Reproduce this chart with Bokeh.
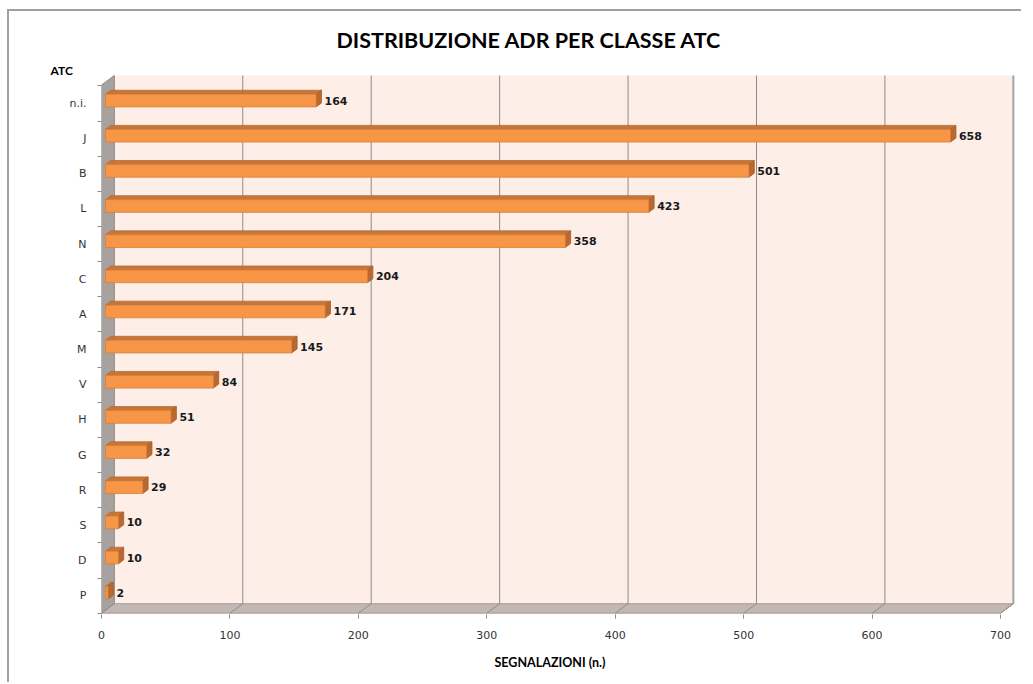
from bokeh.plotting import figure
from bokeh.models import Range1d, FixedTicker, Title, ColumnDataSource
from bokeh.core.properties import value
from bokeh.embed import file_html
from bokeh.resources import INLINE

# ---------------- data ----------------
categories = ["n.i.", "J", "B", "L", "N", "C", "A", "M", "V", "H", "G", "R", "S", "D", "P"]
counts = [164, 658, 501, 423, 358, 204, 171, 145, 84, 51, 32, 29, 10, 10, 2]
x_ticks = [0, 100, 200, 300, 400, 500, 600, 700]
title_text = "DISTRIBUZIONE ADR PER CLASSE ATC"
x_title = "SEGNALAZIONI (n.)"
y_title = "ATC"

# ---------------- geometry (3D look) ----------------
XMAX = 700.0
D = 10.0      # depth offset in x (data units)
DY = 0.27     # depth offset in y (category units)
T1, T2 = 0.31, 0.73   # bar front/back depth fractions
H = 0.18      # half bar height
Y_FLOOR = -0.5
Y_TOP_BACK = 14.797

W, HGT = 1014, 673
n = len(categories)
ypos = [n - 1 - k for k in range(n)]   # n.i. at top

p = figure(width=W, height=HGT,
           x_range=Range1d(0, 714.0), y_range=Range1d(-0.537, 14.939),
           output_backend="svg", toolbar_location=None,
           min_border_left=92, min_border_right=5,
           min_border_top=59, min_border_bottom=70)
p.outline_line_color = None
p.grid.visible = False
p.background_fill_color = "white"
p.border_fill_color = "white"
p.styles = {"margin-left": "7px", "margin-top": "9px",
            "border-top": "2px solid #A0A0A0", "border-left": "2px solid #A0A0A0"}

# back wall
p.quad(left=[D], right=[XMAX + D], bottom=[Y_FLOOR + DY], top=[Y_TOP_BACK],
       fill_color="#FDEEE7", line_color=None)
# floor
p.patch(x=[0, XMAX, XMAX + D, D], y=[Y_FLOOR, Y_FLOOR, Y_FLOOR + DY, Y_FLOOR + DY],
        fill_color="#C3B7B3", line_color="#A89C98", line_width=1)
# left wall
p.patch(x=[0, D, D, 0], y=[Y_FLOOR, Y_FLOOR + DY, Y_TOP_BACK, Y_TOP_BACK - DY],
        fill_color="#A7A19F", line_color="#8E8886", line_width=1)

# gridlines on back wall and floor
grid_vals = [t for t in x_ticks if 0 < t < XMAX]
p.segment(x0=[g + D for g in grid_vals], y0=[Y_FLOOR + DY] * len(grid_vals),
          x1=[g + D for g in grid_vals], y1=[Y_TOP_BACK] * len(grid_vals),
          line_color="#8C8C8C", line_width=1)
fl = [t for t in x_ticks if t > 0]
p.segment(x0=[g + D for g in fl], y0=[Y_FLOOR + DY] * len(fl),
          x1=fl, y1=[Y_FLOOR] * len(fl), line_color="#8C8C8C", line_width=1)
# right edge of back wall
p.segment(x0=[XMAX + D], y0=[Y_FLOOR + DY], x1=[XMAX + D], y1=[Y_TOP_BACK],
          line_color="#A3A3A3", line_width=2)

# bars
src = ColumnDataSource(dict(
    y=ypos, v=counts,
    left=[T1 * D] * n,
    right=[v + T1 * D for v in counts],
    bottom=[y - H + T1 * DY for y in ypos],
    top=[y + H + T1 * DY for y in ypos],
    lab_x=[v + T2 * D for v in counts],
    lab_y=[y + T1 * DY for y in ypos],
    lab=[str(v) for v in counts],
))
top_xs, top_ys, end_xs, end_ys = [], [], [], []
for y, v in zip(ypos, counts):
    x0f, xvf = T1 * D, v + T1 * D
    x0b, xvb = T2 * D, v + T2 * D
    tf, bf = y + H + T1 * DY, y - H + T1 * DY
    tb, bb = y + H + T2 * DY, y - H + T2 * DY
    top_xs.append([x0f, xvf, xvb, x0b]); top_ys.append([tf, tf, tb, tb])
    end_xs.append([xvf, xvb, xvb, xvf]); end_ys.append([bf, bb, tb, tf])

p.patches(xs=top_xs, ys=top_ys, fill_color="#C7763A", line_color="#B8692F", line_width=0.8)
p.patches(xs=end_xs, ys=end_ys, fill_color="#B9692F", line_color="#A85E2A", line_width=0.8)
p.quad(left="left", right="right", bottom="bottom", top="top", source=src,
       fill_color="#F79646", line_color="#D9803A", line_width=0.8)

p.text(x="lab_x", y="lab_y", text="lab", source=src, x_offset=3,
       text_font=value("DejaVu Sans"), text_font_style="bold", text_font_size="11px",
       text_color="#1a1a1a", text_align="left", text_baseline="middle")

# x axis
xa = p.xaxis[0]
xa.ticker = FixedTicker(ticks=x_ticks)
xa.axis_line_color = None
xa.major_tick_line_color = "#8C8C8C"
xa.major_tick_in = 0
xa.major_tick_out = 4
xa.minor_tick_line_color = None
xa.major_label_standoff = 12
xa.major_label_text_font = "DejaVu Sans"
xa.major_label_text_font_size = "11px"
xa.major_label_text_color = "#333333"

# y axis
ya = p.yaxis[0]
ya.ticker = FixedTicker(ticks=ypos, minor_ticks=[k - 0.5 for k in range(n + 1)])
ya.major_label_overrides = {y: c for y, c in zip(ypos, categories)}
ya.axis_line_color = None
ya.major_tick_line_color = None
ya.major_tick_in = 0
ya.major_tick_out = 0
ya.minor_tick_line_color = "#8C8C8C"
ya.minor_tick_in = 0
ya.minor_tick_out = 4
ya.major_label_standoff = 11
ya.major_label_text_font = "DejaVu Sans"
ya.major_label_text_font_size = "11px"
ya.major_label_text_color = "#333333"

# titles
p.add_layout(Title(text=y_title, align="left", offset=-51, standoff=-14,
                   vertical_align="bottom", text_font="Lato", text_font_style="bold",
                   text_font_size="12px", text_color="#000000"), "above")
p.title.text = title_text
p.title.align = "left"
p.title.offset = 235
p.title.standoff = 28
p.title.vertical_align = "middle"
p.title.text_font = "Lato"
p.title.text_font_style = "bold"
p.title.text_font_size = "21.5px"
p.title.text_color = "#000000"
p.add_layout(Title(text=x_title, align="left", offset=393, standoff=23,
                   vertical_align="bottom", text_font="Lato", text_font_style="bold",
                   text_font_size="12.5px", text_color="#000000"), "below")

open("out.html", "w").write(file_html(p, INLINE))
